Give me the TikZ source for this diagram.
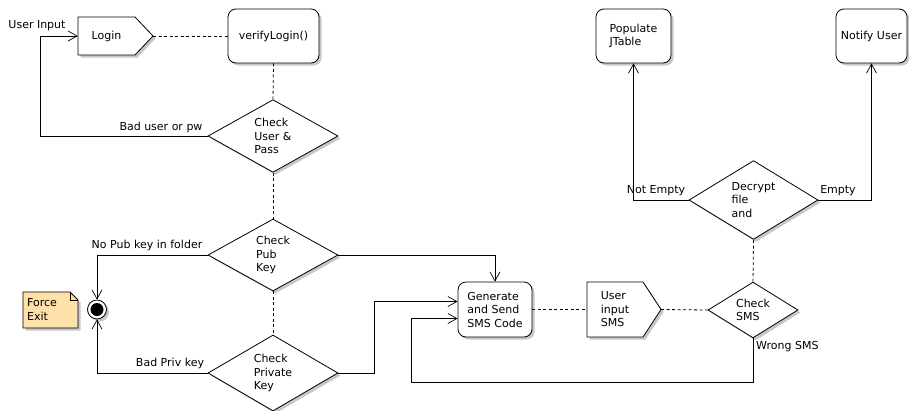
\documentclass[tikz,border=0pt]{standalone}
\usepackage{fontspec}
\setmainfont{DejaVu Sans}
\usetikzlibrary{shapes.geometric,arrows.meta,shadows,calc}
\definecolor{notefill}{RGB}{254,224,170}
\definecolor{shadowgray}{RGB}{185,185,185}

\begin{document}
\begin{tikzpicture}[x=1pt,y=-1pt,
  font=\fontsize{11}{13.5}\selectfont,
  every node/.style={inner sep=0pt},
  shad/.style={drop shadow={shadow xshift=2.5pt,shadow yshift=-2.5pt,fill=shadowgray,opacity=0.8}},
  action/.style={draw,fill=white,rounded corners=8pt,line width=0.8pt,shad,align=left},
  decision/.style={draw,fill=white,diamond,line width=0.8pt,shad,align=left},
  flagshape/.style={draw,fill=white,line width=0.8pt,shad},
  flow/.style={line width=0.8pt,-{Straight Barb[length=9pt,width=10pt,line width=0.7pt]}},
  link/.style={line width=0.8pt,dash pattern=on 3pt off 2.5pt},
]
\useasboundingbox (0,0) rectangle (909,410);

% --- login column ---
\draw[flagshape] (78,17) -- (135,17) -- (153,36) -- (135,55) -- (78,55) -- cycle;
\node[minimum width=57pt,minimum height=38pt] (login) at (106.5,36) {Login};
\coordinate (loginTip) at (153,36);

\node[action,minimum width=91pt,minimum height=54pt] (verify) at (273.5,36) {verifyLogin()};

\node[decision,minimum width=130pt,minimum height=72pt] (chkuser) at (273,136) {Check\\User \&\\Pass};
\node[decision,minimum width=130pt,minimum height=72pt] (chkpub) at (273,255) {Check\\Pub\\Key};
\node[decision,minimum width=130pt,minimum height=72pt] (chkpriv) at (273,373) {Check\\Private\\Key};

% --- forced exit ---
\node[circle,draw,fill=white,line width=0.8pt,minimum size=19pt,shad] (final) at (97,309.5) {};
\fill (final.center) circle (6.5pt);

\draw[fill=notefill,line width=0.8pt,shad] (23,292) -- (70,292) -- (78,300) -- (78,328) -- (23,328) -- cycle;
\draw[line width=0.6pt] (70,292) -- (70,300) -- (78,300);
\node[anchor=west,align=left] (note) at (27,309.5) {Force\\Exit};

% --- SMS stage ---
\node[action,minimum width=74pt,minimum height=55pt] (gen) at (495,309.5) {Generate\\and Send\\SMS Code};

\draw[flagshape] (587,282) -- (643,282) -- (661,309.5) -- (643,337) -- (587,337) -- cycle;
\node[minimum width=56pt,minimum height=55pt,align=left] (sms) at (615,309.5) {User\\input\\SMS};
\coordinate (smsTip) at (661,309.5);

\node[decision,minimum width=90pt,minimum height=54pt] (chksms) at (753,310) {Check\\SMS};
\node[decision,minimum width=129pt,minimum height=72pt] (decrypt) at (753.5,200) {Decrypt\\file\\and};

\node[action,minimum width=75pt,minimum height=54pt] (populate) at (633.5,36) {Populate\\JTable};
\node[action,minimum width=71pt,minimum height=54pt] (notify) at (871.5,36) {Notify User};

% --- dotted links ---
\draw[link] (loginTip) -- (verify.west);
\draw[link] (verify.south) -- (chkuser.north);
\draw[link] (chkuser.south) -- (chkpub.north);
\draw[link] (chkpub.south) -- (chkpriv.north);
\draw[link] (gen.east) -- (sms.west);
\draw[link] (smsTip) -- (chksms.west);
\draw[link] (chksms.north) -- (decrypt.south);

% --- control flow ---
\draw[flow] (chkuser.west) -- ++(-167,0) |- (login.west);
\draw[flow] (chkpub.west) -| (final.north);
\draw[flow] (chkpriv.west) -| (final.south);
\draw[flow] (chkpub.east) -| (gen.north);
\draw[flow] (chkpriv.east) -- ++(36,0) |- ([yshift=8pt]gen.west);
\coordinate (loopA) at (411,382);
\draw[flow] (chksms.south) |- (loopA) |- ([yshift=-9pt]gen.west);
\draw[flow] (decrypt.west) -| (populate.south);
\draw[flow] (decrypt.east) -| (notify.south);

% --- labels ---
\node (lUser) at (37,26) {User Input};
\node (lBadUser) at (161,127) {Bad user or pw};
\node (lNoPub) at (147,245) {No Pub key in folder};
\node (lBadPriv) at (170,363) {Bad Priv key};
\node[anchor=west] (lWrong) at (756,347) {Wrong SMS};
\node (lNotEmpty) at (656,191) {Not Empty};
\node (lEmpty) at (838,191) {Empty};
\end{tikzpicture}
\end{document}
